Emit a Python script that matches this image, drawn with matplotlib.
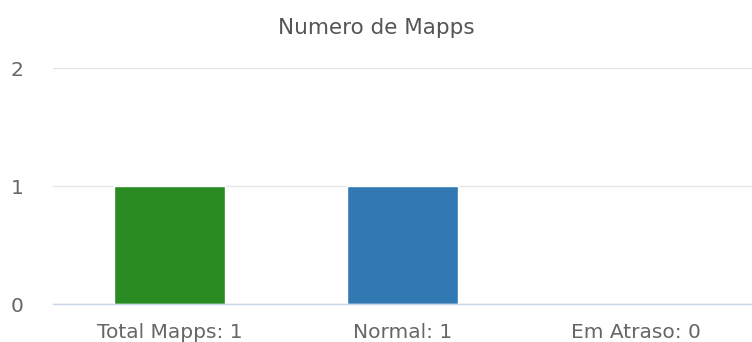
import matplotlib
matplotlib.use("Agg")
import matplotlib.pyplot as plt
import matplotlib.transforms as mtransforms

categories = ["Total Mapps: 1", "Normal: 1", "Em Atraso: 0"]
values = [1, 1, 0]
colors = ["#298B22", "#3279B4", "#3279B4"]
y_ticks = [0, 1, 2]
title = "Numero de Mapps"

W, H = 752, 342
fig = plt.figure(figsize=(W / 100, H / 100), dpi=100)
ax = fig.add_axes([53 / W, (H - 304) / H, (W - 53) / W, (304 - 68) / H])

x = list(range(len(categories)))
ax.bar(x, values, width=0.48, color=colors, edgecolor="white", linewidth=1, zorder=3)

ax.set_xlim(-0.5, len(categories) - 0.5)
ax.set_ylim(0, 2)
ax.set_yticks(y_ticks)
ax.set_yticklabels([])
ax.set_xticks(x)
ax.set_xticklabels([])

ax.grid(axis="y", color="#e6e6e6", linewidth=1, zorder=0)
for side in ["top", "right", "left"]:
    ax.spines[side].set_visible(False)
ax.spines["bottom"].set_color("#ccd6eb")
ax.spines["bottom"].set_linewidth(1)
ax.spines["bottom"].set_zorder(4)
ax.tick_params(axis="both", length=0)

label_color = "#666666"
label_size = 14.5

# y-axis labels, left-aligned near the figure edge
ytrans = mtransforms.blended_transform_factory(fig.transFigure, ax.transData) \
    + mtransforms.ScaledTranslation(0, -2 / 100, fig.dpi_scale_trans)
for v in y_ticks:
    fig.text(11 / W, v, str(v), transform=ytrans, ha="left", va="center",
             fontsize=label_size, color=label_color)

# category labels under the bars
xtrans = mtransforms.blended_transform_factory(ax.transData, fig.transFigure)
for xi, lab in zip(x, categories):
    fig.text(xi, (H - 332) / H, lab, transform=xtrans, ha="center", va="center",
             fontsize=label_size, color=label_color)

fig.text(0.5, (H - 28) / H, title, ha="center", va="center", fontsize=15.5, color="#555555")

fig.savefig("out.png", dpi=100, facecolor="white")
